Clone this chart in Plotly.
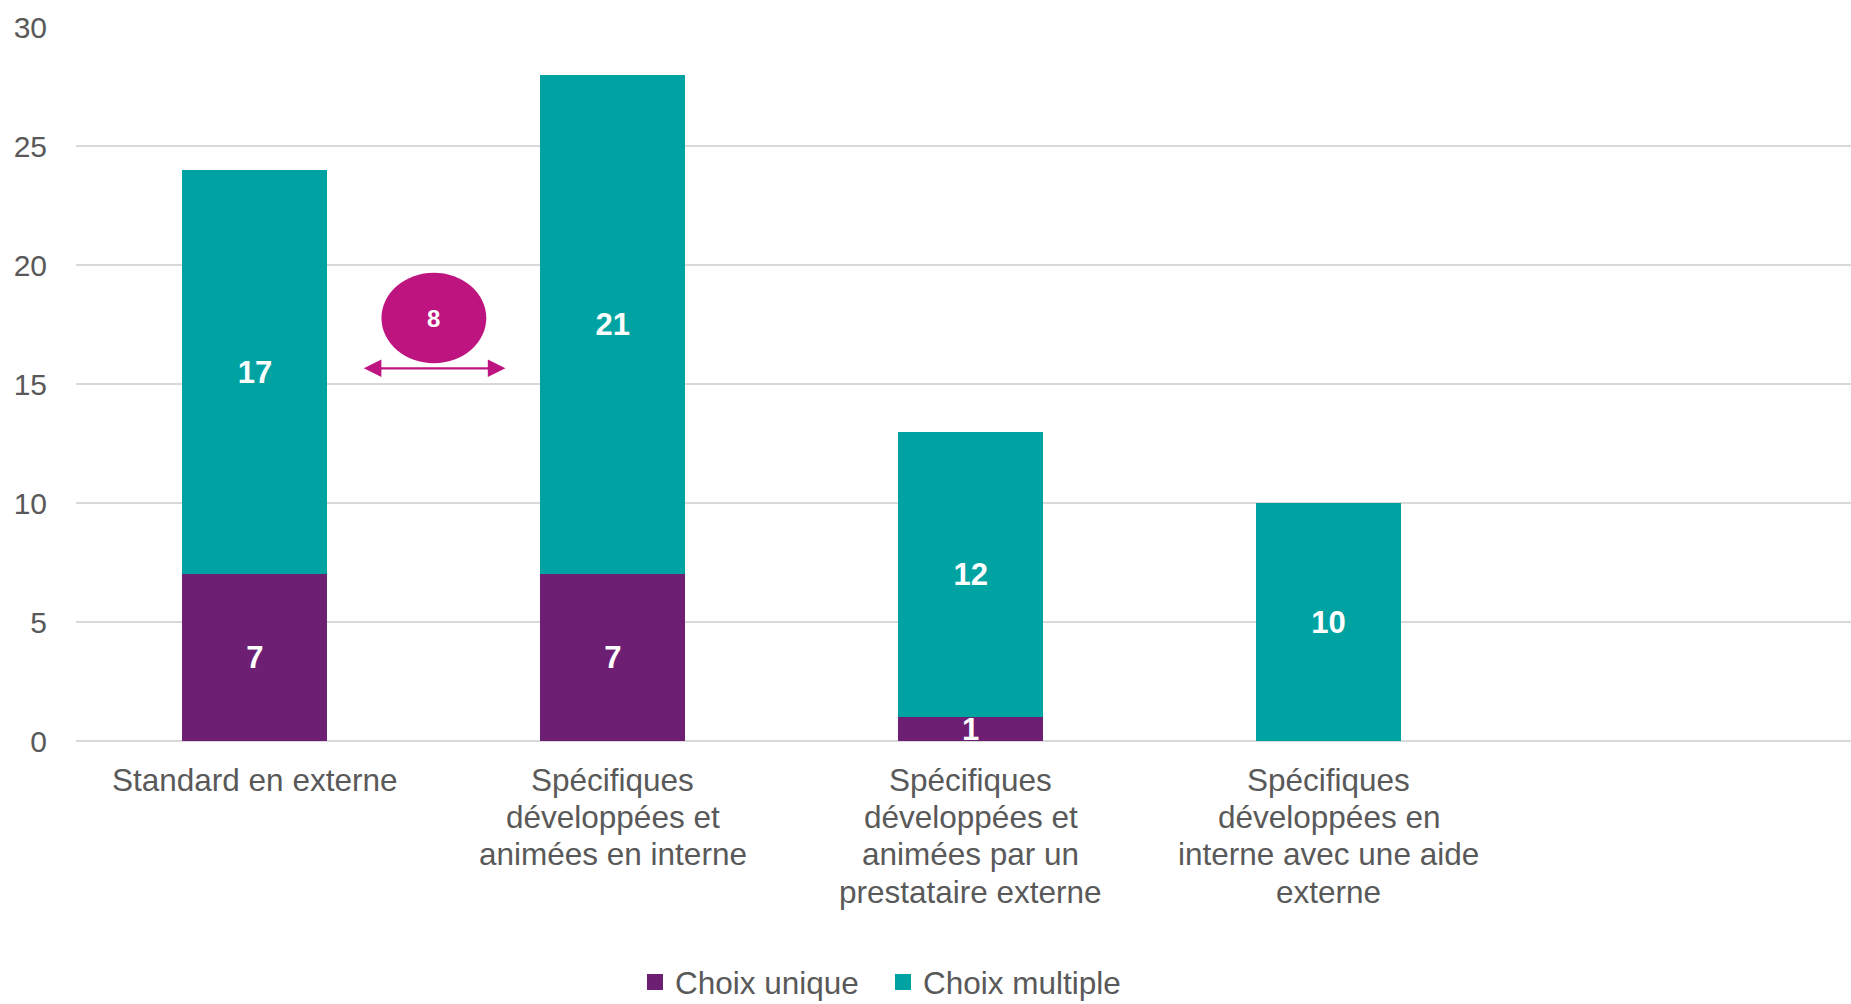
import plotly.graph_objects as go

categories = [
    "Standard en externe",
    "Spécifiques<br>développées et<br>animées en interne",
    "Spécifiques<br>développées et<br>animées par un<br>prestataire externe",
    "Spécifiques<br>développées en<br>interne avec une aide<br>externe",
]
choix_unique = [7, 7, 1, 0]
choix_multiple = [17, 21, 12, 10]
bubble_value = 8
y_ticks = [0, 5, 10, 15, 20, 25, 30]

PURPLE = "#6D1F74"
TEAL = "#00A3A1"
MAGENTA = "#BE1480"
GREY = "#595959"
FONT = "Liberation Sans, Arial, sans-serif"

def labels(vals):
    return [str(v) if v else "" for v in vals]

fig = go.Figure()
fig.add_trace(go.Bar(
    name="Choix unique", x=categories, y=choix_unique, showlegend=False,
    marker=dict(color=PURPLE, line=dict(width=0)),
    text=labels(choix_unique), textposition="inside", insidetextanchor="middle",
    constraintext="none", textangle=0,
    textfont=dict(family=FONT, size=31, color="white", weight="bold"),
))
fig.add_trace(go.Bar(
    name="Choix multiple", x=categories, y=choix_multiple, showlegend=False,
    marker=dict(color=TEAL, line=dict(width=0)),
    text=labels(choix_multiple), textposition="inside", insidetextanchor="middle",
    constraintext="none", textangle=0,
    textfont=dict(family=FONT, size=31, color="white", weight="bold"),
))
# legend entries (square swatches)
for nm, col in [("Choix unique", PURPLE), ("Choix multiple", TEAL)]:
    fig.add_trace(go.Scatter(x=[None], y=[None], mode="markers", name=nm,
                             marker=dict(symbol="square", size=16, color=col)))

# x-axis category labels (custom line spacing)
for i, cat in enumerate(categories):
    for j, line in enumerate(cat.split("<br>")):
        fig.add_annotation(x=i, y=0, xref="x", yref="y", text=line, showarrow=False,
                           xanchor="center", yanchor="middle", yshift=-38.5 - 37.4 * j,
                           font=dict(family=FONT, size=31.5, color=GREY))

# bubble between first two bars
bx = 0.5
by = 17.77
fig.add_shape(type="circle", xref="x", yref="y",
              x0=bx - 0.1465, x1=bx + 0.1465, y0=by - 1.9, y1=by + 1.9,
              fillcolor=MAGENTA, line=dict(width=0), layer="above")
fig.add_annotation(x=bx, y=by, xref="x", yref="y", text=str(bubble_value),
                   showarrow=False, font=dict(family=FONT, size=24, color="white", weight="bold"))
fig.add_annotation(x=0.70, y=15.66, ax=0.30, ay=15.66, xref="x", yref="y", axref="x", ayref="y",
                   text="", showarrow=True, arrowhead=2, startarrowhead=2, arrowside="end+start",
                   arrowsize=1.6, startarrowsize=1.6, arrowwidth=2.2, arrowcolor=MAGENTA)

fig.update_layout(
    barmode="stack",
    bargap=0.595,
    width=1851, height=1004,
    margin=dict(l=76, r=0, t=27, b=263, autoexpand=False),
    plot_bgcolor="white", paper_bgcolor="white",
    font=dict(family=FONT, color=GREY, size=30),
    showlegend=True,
    legend=dict(orientation="h", xref="container", yref="container",
                x=635 / 1851, xanchor="left", y=1 - 982 / 1004, yanchor="middle",
                font=dict(family=FONT, size=31.5, color=GREY), traceorder="normal",
                itemwidth=30, tracegroupgap=0, itemsizing="trace",
                entrywidth=203, entrywidthmode="pixels"),
)
fig.update_xaxes(
    range=[-0.5, 4.46], showgrid=False, showline=False, zeroline=False,
    showticklabels=False, ticks="", automargin=False,
)
fig.update_yaxes(
    range=[0, 30], tickvals=y_ticks, showgrid=True, gridcolor="#D9D9D9", gridwidth=1.5,
    zeroline=True, zerolinecolor="#D9D9D9", zerolinewidth=1.5, showline=False,
    tickfont=dict(family=FONT, size=30, color=GREY), ticks="", ticklabelstandoff=28,
    automargin=False,
)

fig.write_html("out.html", config={"displayModeBar": False},
               post_script="document.body.style.margin='0';document.body.style.overflow='hidden';")
